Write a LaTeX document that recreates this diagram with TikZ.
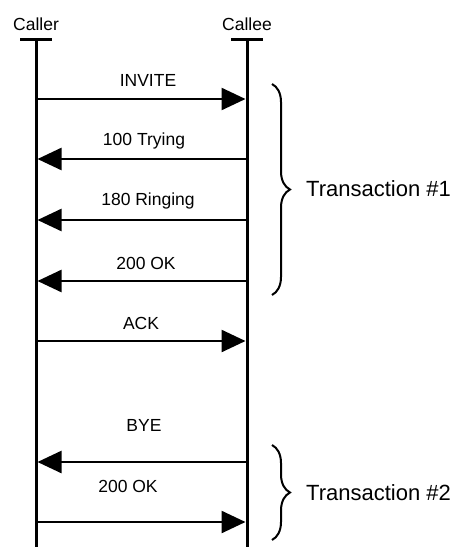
\documentclass[tikz,border=0pt]{standalone}
\usepackage{fontspec}
\setmainfont{Liberation Sans}
\usetikzlibrary{arrows.meta,decorations.pathreplacing}
\begin{document}
\begin{tikzpicture}[x=1pt,y=-1pt,
  lifeline/.style={line width=3pt},
  bar/.style={line width=3pt},
  msg/.style={line width=2.5pt,-{Triangle[length=24pt,width=22pt]}},
  lbl/.style={font=\fontsize{17.5}{20}\selectfont,inner sep=0pt},
  big/.style={font=\fontsize{22}{26}\selectfont,inner sep=0pt,anchor=west},
  brc/.style={line width=2pt,decorate,decoration={brace,amplitude=18pt}}]
\useasboundingbox (0,0) rectangle (457,547);
% participants
\node[lbl] (caller) at (36,24) {Caller};
\node[lbl] (callee) at (247,24) {Callee};
\coordinate (ct) at (36,39); \coordinate (cb) at (36,547);
\coordinate (et) at (247,39); \coordinate (eb) at (247,547);
\coordinate (ctl) at (20,39); \coordinate (ctr) at (52,39);
\coordinate (etl) at (231,39); \coordinate (etr) at (263,39);
\draw[bar] (ctl) -- (ctr);
\draw[bar] (etl) -- (etr);
\draw[lifeline] (ct) -- (cb);
\draw[lifeline] (et) -- (eb);
% message end points
\foreach \n/\y in {1/99,2/159,3/220,4/281,5/341,6/462,7/522}{
  \coordinate (a\n) at (36,\y);
  \coordinate (b\n) at (245.5,\y);
  \coordinate (c\n) at (37.5,\y);
}
\draw[msg] (a1) -- (b1);
\draw[msg] (b2) -- (c2);
\draw[msg] (b3) -- (c3);
\draw[msg] (b4) -- (c4);
\draw[msg] (a5) -- (b5);
\draw[msg] (b6) -- (c6);
\draw[msg] (a7) -- (b7);
% labels
\node[lbl] (l1) at (148,80) {INVITE};
\node[lbl] (l2) at (144,141) {100 Trying};
\node[lbl] (l3) at (148,201) {180 Ringing};
\node[lbl] (l4) at (146,263) {200 OK};
\node[lbl] (l5) at (141,323) {ACK};
\node[lbl] (l6) at (144,425) {BYE};
\node[lbl] (l7) at (128,486) {200 OK};
% braces
\coordinate (t1a) at (272,84); \coordinate (t1b) at (272,295);
\coordinate (t2a) at (272,445); \coordinate (t2b) at (272,540);
\draw[brc] (t1a) -- (t1b);
\draw[brc] (t2a) -- (t2b);
\node[big] (tr1) at (306,189) {Transaction \#1};
\node[big] (tr2) at (306,493) {Transaction \#2};
\end{tikzpicture}
\end{document}
